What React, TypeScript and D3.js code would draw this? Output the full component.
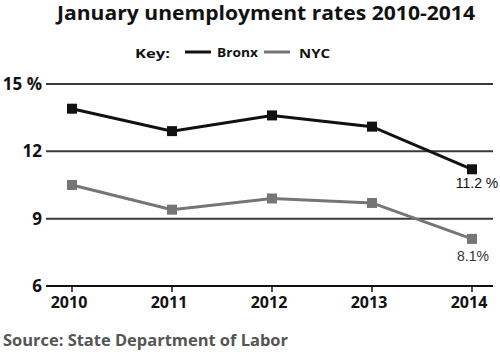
import React from "react";
import * as d3 from "d3";

const years = [2010, 2011, 2012, 2013, 2014];
const bronx = [13.9, 12.9, 13.6, 13.1, 11.2];
const nyc = [10.5, 9.4, 9.9, 9.7, 8.1];
const yTicks = [6, 9, 12, 15];
const yTickLabels = ["6", "9", "12", "15 %"];
const title = "January unemployment rates 2010-2014";
const source = "Source: State Department of Labor";
const bronxLabel = "11.2 %";
const nycLabel = "8.1%";

const W = 500;
const H = 355;
const FONT = "'Open Sans', 'DejaVu Sans', sans-serif";

export default function App() {
  const x = d3.scalePoint<number>().domain(years).range([72, 472]);
  const y = d3.scaleLinear().domain([6, 15]).range([286, 84]);
  const line = d3
    .line<number>()
    .x((_, i) => x(years[i]) as number)
    .y((d) => y(d));
  const bronxColor = "#111";
  const nycColor = "#757575";
  const ms = 10;

  return (
    <svg
      width={W}
      height={H}
      style={{ position: "absolute", left: 0, top: 0, background: "#fff" }}
      fontFamily={FONT}
    >
      <text x={57} y={20} fontSize={20} fontWeight={700} fill="#111" textLength={418} lengthAdjust="spacingAndGlyphs">
        {title}
      </text>
      {/* legend */}
      <text x={135} y={58} fontSize={13} fontWeight={700} fill="#111" textLength={35} lengthAdjust="spacingAndGlyphs">Key:</text>
      <line x1={185} x2={211} y1={52} y2={52} stroke={bronxColor} strokeWidth={3} />
      <text x={217} y={57} fontSize={13} fontWeight={700} fill="#111" textLength={41} lengthAdjust="spacingAndGlyphs">Bronx</text>
      <line x1={264} x2={290} y1={52} y2={52} stroke={nycColor} strokeWidth={3} />
      <text x={299} y={58} fontSize={13} fontWeight={700} fill="#111" textLength={31} lengthAdjust="spacingAndGlyphs">NYC</text>

      {/* grid */}
      {yTicks.map((t, i) => (
        <g key={t}>
          <line
            x1={46}
            x2={493}
            y1={y(t)}
            y2={y(t)}
            stroke={t === 6 ? "#111" : "#3a3a3a"}
            strokeWidth={2}
          />
          <text
            x={42}
            y={y(t)}
            dy="0.36em"
            textAnchor="end"
            fontSize={17}
            fontWeight={700}
            fill="#111"
          >
            {yTickLabels[i]}
          </text>
        </g>
      ))}
      {years.map((yr) => (
        <g key={yr}>
          <line x1={x(yr)} x2={x(yr)} y1={286} y2={292} stroke="#111" strokeWidth={1.5} />
          <text x={x(yr) as number - 3} y={308} textAnchor="middle" fontSize={16} fontWeight={700} fill="#111">
            {yr}
          </text>
        </g>
      ))}

      {/* series */}
      <path d={line(nyc) || ""} fill="none" stroke={nycColor} strokeWidth={3} />
      {nyc.map((v, i) => (
        <rect key={i} x={(x(years[i]) as number) - ms / 2} y={y(v) - ms / 2} width={ms} height={ms} fill={nycColor} />
      ))}
      <path d={line(bronx) || ""} fill="none" stroke={bronxColor} strokeWidth={3} />
      {bronx.map((v, i) => (
        <rect key={i} x={(x(years[i]) as number) - ms / 2} y={y(v) - ms / 2} width={ms} height={ms} fill={bronxColor} />
      ))}

      <text x={477} y={188} textAnchor="middle" fontSize={14} fill="#111" fontFamily="'Liberation Sans', sans-serif">
        {bronxLabel}
      </text>
      <text x={473} y={261} textAnchor="middle" fontSize={14} fill="#333" fontFamily="'Liberation Sans', sans-serif">
        {nycLabel}
      </text>

      <text x={3} y={346} fontSize={16} fontWeight={700} fill="#555" textLength={285} lengthAdjust="spacingAndGlyphs">
        {source}
      </text>
    </svg>
  );
}
